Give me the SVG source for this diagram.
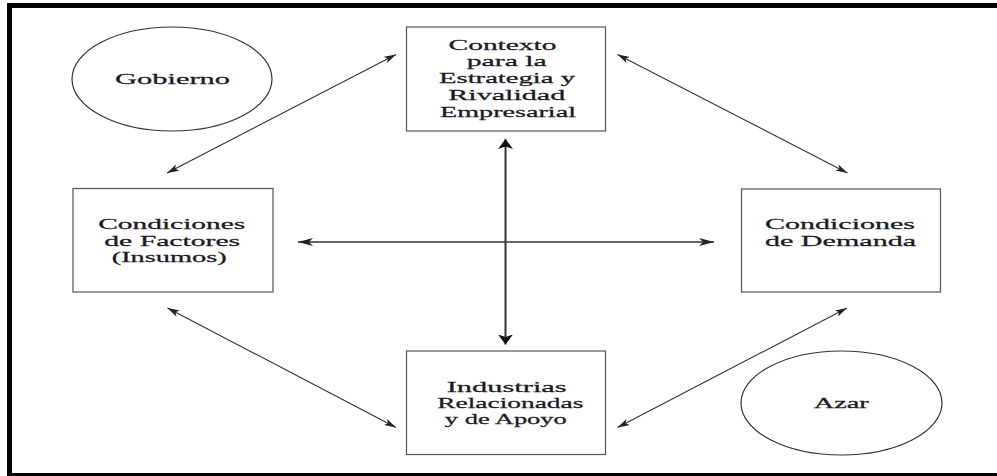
<svg xmlns="http://www.w3.org/2000/svg" width="997" height="476" viewBox="0 0 997 476">
<style>
.box{fill:#fff;stroke:#555;stroke-width:1.2}
.ell{fill:#fff;stroke:#333;stroke-width:1.2}
.t{font-family:"Liberation Serif","Times New Roman",serif;font-size:14.5px;fill:#1a1a26;stroke:#1a1a26;stroke-width:0.25;text-anchor:middle}
.ln{stroke:#333;fill:none}
</style>
<defs>
<marker id="ad" viewBox="0 0 12 7" refX="12" refY="3.5" markerWidth="12" markerHeight="7" orient="auto-start-reverse" markerUnits="userSpaceOnUse"><path d="M0,0 L12,3.5 L0,7 L3,3.5z" fill="#222"/></marker>
<marker id="ah" viewBox="0 0 15 8" refX="15" refY="4" markerWidth="15" markerHeight="8" orient="auto-start-reverse" markerUnits="userSpaceOnUse"><path d="M0,0 L15,4 L0,8 L4,4z" fill="#222"/></marker>
<marker id="av" viewBox="0 0 10 15" refX="10" refY="7.5" markerWidth="10" markerHeight="15" orient="auto-start-reverse" markerUnits="userSpaceOnUse"><path d="M0,0 L10,7.5 L0,15 L2.5,7.5z" fill="#111"/></marker>
</defs>
<rect x="0" y="0" width="997" height="476" fill="#fff"/>
<rect x="9.5" y="5.5" width="1000" height="470" fill="none" stroke="#000" stroke-width="5"/>

<g id="connectors">
<line class="ln" x1="167" y1="173" x2="396" y2="54.5" stroke-width="1.1" marker-start="url(#ad)" marker-end="url(#ad)"/>
<line class="ln" x1="617.5" y1="54.5" x2="847.5" y2="173" stroke-width="1.1" marker-start="url(#ad)" marker-end="url(#ad)"/>
<line class="ln" x1="167.5" y1="308" x2="396" y2="427.5" stroke-width="1.1" marker-start="url(#ad)" marker-end="url(#ad)"/>
<line class="ln" x1="847" y1="308" x2="617.5" y2="427.5" stroke-width="1.1" marker-start="url(#ad)" marker-end="url(#ad)"/>
<line class="ln" x1="505.5" y1="139" x2="505.5" y2="344.5" stroke-width="2" marker-start="url(#av)" marker-end="url(#av)"/>
<line class="ln" x1="298" y1="242" x2="714" y2="242" stroke-width="1.3" marker-start="url(#ah)" marker-end="url(#ah)"/>
</g>

<g id="gobierno">
<ellipse class="ell" cx="172" cy="79" rx="100" ry="52"/>
<text class="t" transform="translate(172.5 83.5) scale(1.4 1)" x="0" y="0" textLength="82.1" lengthAdjust="spacingAndGlyphs">Gobierno</text>
</g>

<g id="contexto">
<rect class="box" x="406.5" y="27" width="199" height="104"/>
<text class="t" transform="translate(502.5 49.5) scale(1.4 1)" x="0" y="0" textLength="77.1" lengthAdjust="spacingAndGlyphs">Contexto</text>
<text class="t" transform="translate(506.7 66.3) scale(1.4 1)" x="0" y="0" textLength="57.1" lengthAdjust="spacingAndGlyphs">para la</text>
<text class="t" transform="translate(507 83.1) scale(1.4 1)" x="0" y="0" textLength="97.1" lengthAdjust="spacingAndGlyphs">Estrategia y</text>
<text class="t" transform="translate(506.7 99.9) scale(1.4 1)" x="0" y="0" textLength="83.6" lengthAdjust="spacingAndGlyphs">Rivalidad</text>
<text class="t" transform="translate(508 116.7) scale(1.4 1)" x="0" y="0" textLength="97.1" lengthAdjust="spacingAndGlyphs">Empresarial</text>
</g>

<g id="factores">
<rect class="box" x="73" y="188.5" width="200" height="103.5"/>
<text class="t" transform="translate(171.7 229.3) scale(1.4 1)" x="0" y="0" textLength="105" lengthAdjust="spacingAndGlyphs">Condiciones</text>
<text class="t" transform="translate(172.2 245.7) scale(1.4 1)" x="0" y="0" textLength="97.1" lengthAdjust="spacingAndGlyphs">de Factores</text>
<text class="t" transform="translate(169.2 261.5) scale(1.4 1)" x="0" y="0" textLength="82.1" lengthAdjust="spacingAndGlyphs">(Insumos)</text>
</g>

<g id="demanda">
<rect class="box" x="741.5" y="189" width="199" height="103"/>
<text class="t" transform="translate(840 229.3) scale(1.4 1)" x="0" y="0" textLength="107.1" lengthAdjust="spacingAndGlyphs">Condiciones</text>
<text class="t" transform="translate(840.5 245.7) scale(1.4 1)" x="0" y="0" textLength="107.9" lengthAdjust="spacingAndGlyphs">de Demanda</text>
</g>

<g id="industrias">
<rect class="box" x="406.5" y="351" width="199" height="103.5"/>
<text class="t" transform="translate(506.7 391.7) scale(1.4 1)" x="0" y="0" textLength="85.7" lengthAdjust="spacingAndGlyphs">Industrias</text>
<text class="t" transform="translate(510.3 407.7) scale(1.4 1)" x="0" y="0" textLength="104.3" lengthAdjust="spacingAndGlyphs">Relacionadas</text>
<text class="t" transform="translate(505.8 423.5) scale(1.4 1)" x="0" y="0" textLength="87.1" lengthAdjust="spacingAndGlyphs">y de Apoyo</text>
</g>

<g id="azar">
<ellipse class="ell" cx="841.5" cy="403" rx="100.5" ry="52"/>
<text class="t" transform="translate(841.2 407.7) scale(1.4 1)" x="0" y="0" textLength="39.3" lengthAdjust="spacingAndGlyphs">Azar</text>
</g>
</svg>
